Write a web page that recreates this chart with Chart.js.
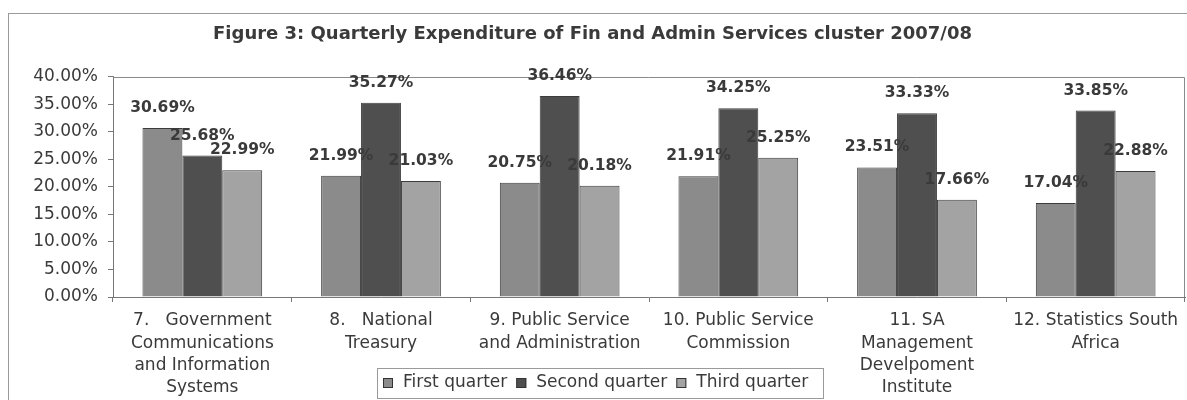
<!DOCTYPE html>
<html>
<head>
<meta charset="utf-8">
<script src="https://cdn.jsdelivr.net/npm/chart.js@4/dist/chart.umd.min.js"></script>
<style>
  body { margin: 0; background: #fff; }
  canvas { display: block; }
</style>
</head>
<body>
<canvas id="chart" width="1187" height="400"></canvas>
<script>
// Data
const departments = [
    ['7.   Government', 'Communications', 'and Information', 'Systems'],
    ['8.   National', 'Treasury'],
    ['9. Public Service', 'and Administration'],
    ['10. Public Service', 'Commission'],
    ['11. SA', 'Management', 'Develpoment', 'Institute'],
    ['12. Statistics South', 'Africa']
];
const seriesNames = ['First quarter', 'Second quarter', 'Third quarter'];
const firstQuarter = [30.69, 21.99, 20.75, 21.91, 23.51, 17.04];
const secondQuarter = [25.68, 35.27, 36.46, 34.25, 33.33, 33.85];
const thirdQuarter = [22.99, 21.03, 20.18, 25.25, 17.66, 22.88];
const yTicks = [0, 5, 10, 15, 20, 25, 30, 35, 40];

const barColors = ['#8b8b8b', '#4f4f4f', '#a3a3a3'];
const textColor = '#3a3a3a';
const FONT = 'DejaVu Sans';

// Draws the value above each bar, plus the frames and the boxed legend
const decorPlugin = {
    id: 'decor',
    beforeDraw(chart) {
        const ctx = chart.ctx;
        ctx.save();
        ctx.fillStyle = '#fff';
        ctx.fillRect(0, 0, chart.width, chart.height);
        ctx.strokeStyle = '#9a9a9a';
        ctx.lineWidth = 1;
        ctx.strokeRect(8.5, 13.5, chart.width + 20, chart.height + 20);
        ctx.restore();
    },
    afterDatasetsDraw(chart) {
        const ctx = chart.ctx;
        const area = chart.chartArea;
        ctx.save();
        // plot frame (top and right)
        ctx.strokeStyle = '#8a8a8a';
        ctx.lineWidth = 1;
        ctx.beginPath();
        ctx.moveTo(area.left, Math.round(area.top) + 0.5);
        ctx.lineTo(Math.round(area.right) - 0.5, Math.round(area.top) + 0.5);
        ctx.lineTo(Math.round(area.right) - 0.5, area.bottom);
        ctx.stroke();

        // value labels
        ctx.fillStyle = textColor;
        ctx.font = 'bold 15.5px "' + FONT + '"';
        ctx.textAlign = 'center';
        ctx.textBaseline = 'middle';
        chart.data.datasets.forEach((ds, i) => {
            const meta = chart.getDatasetMeta(i);
            meta.data.forEach((bar, j) => {
                ctx.fillText(ds.data[j].toFixed(2) + '%', bar.x, bar.y - 20);
            });
        });

        // boxed legend
        const lx = 377, ly = 368, lw = 446, lh = 30;
        ctx.strokeStyle = '#9a9a9a';
        ctx.fillStyle = '#fff';
        ctx.fillRect(lx + 0.5, ly + 0.5, lw, lh);
        ctx.strokeRect(lx + 0.5, ly + 0.5, lw, lh);
        ctx.font = '17px "' + FONT + '"';
        ctx.textAlign = 'left';
        let x = lx + 6;
        const cy = ly + 15;
        chart.data.datasets.forEach(ds => {
            ctx.fillStyle = ds.backgroundColor;
            ctx.fillRect(x, cy - 5, 10, 10);
            ctx.strokeStyle = '#333';
            ctx.strokeRect(x + 0.5, cy - 4.5, 9, 9);
            ctx.fillStyle = textColor;
            ctx.fillText(ds.label, x + 20, cy);
            x += 20 + ctx.measureText(ds.label).width + 9;
        });
        ctx.restore();
    }
};

const ctx = document.getElementById('chart').getContext('2d');
new Chart(ctx, {
    type: 'bar',
    data: {
        labels: departments,
        datasets: [
            { label: seriesNames[0], data: firstQuarter, backgroundColor: barColors[0] },
            { label: seriesNames[1], data: secondQuarter, backgroundColor: barColors[1] },
            { label: seriesNames[2], data: thirdQuarter, backgroundColor: barColors[2] }
        ].map(d => Object.assign(d, {
            borderColor: '#3c3c3c',
            borderWidth: 1,
            categoryPercentage: 0.67,
            barPercentage: 1.0
        }))
    },
    options: {
        responsive: false,
        animation: false,
        layout: { padding: { left: 0, right: 2, top: 0, bottom: 0 } },
        plugins: {
            legend: { display: false },
            tooltip: { enabled: false },
            title: {
                display: true,
                text: 'Figure 3: Quarterly Expenditure of Fin and Admin Services cluster 2007/08',
                color: textColor,
                font: { family: FONT, size: 18, weight: 'bold', lineHeight: 1.2 },
                padding: { top: 24, bottom: 31 }
            }
        },
        scales: {
            x: {
                grid: { display: true, drawOnChartArea: false, tickLength: 5, color: '#777', offset: true },
                border: { display: true, color: '#777' },
                ticks: {
                    color: textColor,
                    font: { family: FONT, size: 17, lineHeight: 1.3 },
                    padding: 8,
                    maxRotation: 0,
                    autoSkip: false
                },
                afterFit(scale) { scale.height = 103; }
            },
            y: {
                min: yTicks[0],
                max: yTicks[yTicks.length - 1],
                afterBuildTicks(scale) { scale.ticks = yTicks.map(v => ({ value: v })); },
                grid: { display: true, drawOnChartArea: false, tickLength: 5, color: '#777' },
                border: { display: true, color: '#777' },
                ticks: {
                    color: textColor,
                    font: { family: FONT, size: 17 },
                    padding: 10,
                    callback: v => v.toFixed(2) + '%'
                },
                afterFit(scale) { scale.width = 113; }
            }
        }
    },
    plugins: [decorPlugin]
});
</script>
</body>
</html>
